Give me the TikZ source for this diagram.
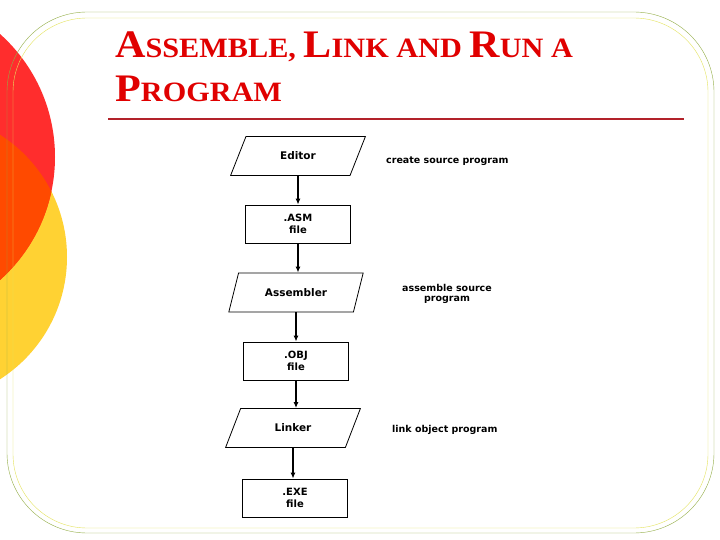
\documentclass[tikz,border=0pt]{standalone}
\usepackage{fontspec}
\setmainfont{Liberation Serif}
\newfontfamily\titlefont[FakeStretch=1.08]{Liberation Serif}
\newfontfamily\chartfont{DejaVu Sans}
\usepackage{tikz}
\usetikzlibrary{shapes.geometric, arrows.meta}
\definecolor{circred}{HTML}{FF2D2D}
\definecolor{circyellow}{HTML}{FFD233}
\definecolor{circorange}{HTML}{FF4A00}
\definecolor{frameolive}{HTML}{93AD45}
\definecolor{frameyellow}{HTML}{E4E35C}
\definecolor{titlered}{HTML}{E00000}
\definecolor{rulered}{HTML}{B2222A}
\newcommand{\capword}[2]{{\fontsize{39}{39}\selectfont #1}#2}

\begin{document}
\begin{tikzpicture}[x=1pt, y=-1pt,
  procbox/.style={draw, thick, trapezium, trapezium left angle=57, trapezium right angle=123, trapezium stretches=true, minimum width=135pt, minimum height=39pt, inner sep=0pt, font=\chartfont\bfseries\fontsize{10.5}{12}\selectfont},
  filebox/.style={draw, thick, rectangle, minimum width=105pt, minimum height=38pt, align=center, inner sep=0pt, font=\chartfont\bfseries\fontsize{10}{11.5}\selectfont},
  note/.style={align=center, inner sep=0pt, font=\chartfont\bfseries\fontsize{9.5}{10}\selectfont},
  heading/.style={anchor=base west, inner sep=0pt, text=titlered, font=\titlefont\bfseries\fontsize{28}{28}\selectfont},
  flow/.style={line width=1.6pt, -{Latex[length=6pt, width=5pt]}}]
\useasboundingbox (0,0) rectangle (720,540);
\fill[white] (0,0) rectangle (720,540);
\fill[circyellow] (-78,257) circle[radius=145];
\fill[circred] (-110,157) circle[radius=165];
\begin{scope}
\clip (-78,257) circle[radius=145];
\fill[circorange] (-110,157) circle[radius=165];
\end{scope}
\draw[frameolive, rounded corners=80pt] (7,12) rectangle (714,533);
\draw[frameyellow, rounded corners=74pt] (13,18) rectangle (708,528);
\node[heading] (title1) at (115,58) {\capword{A}{SSEMBLE,} \capword{L}{INK} AND \capword{R}{UN} A};
\node[heading] (title2) at (115,102) {\capword{P}{ROGRAM}};
\draw[rulered, line width=2.5pt] (108,119) -- (684,119);
\node[procbox] (editor) at (298,156) {Editor};
\node[filebox] (asm) at (298,224) {.ASM\\file};
\node[procbox] (assembler) at (296,292.5) {Assembler};
\node[filebox] (obj) at (296,361) {.OBJ\\file};
\node[procbox] (linker) at (293,428) {Linker};
\node[filebox] (exe) at (295,498) {.EXE\\file};
\node[note, anchor=west] (create) at (386,161) {create source program};
\node[note] (assemble) at (447,294) {assemble source\\program};
\node[note, anchor=west] (link) at (392,430) {link object program};
\draw[flow] (editor.south) -- (editor.south |- asm.north);
\draw[flow] (asm.south) -- (asm.south |- assembler.north);
\draw[flow] (assembler.south) -- (assembler.south |- obj.north);
\draw[flow] (obj.south) -- (obj.south |- linker.north);
\draw[flow] (linker.south) -- (linker.south |- exe.north);
\end{tikzpicture}
\end{document}
